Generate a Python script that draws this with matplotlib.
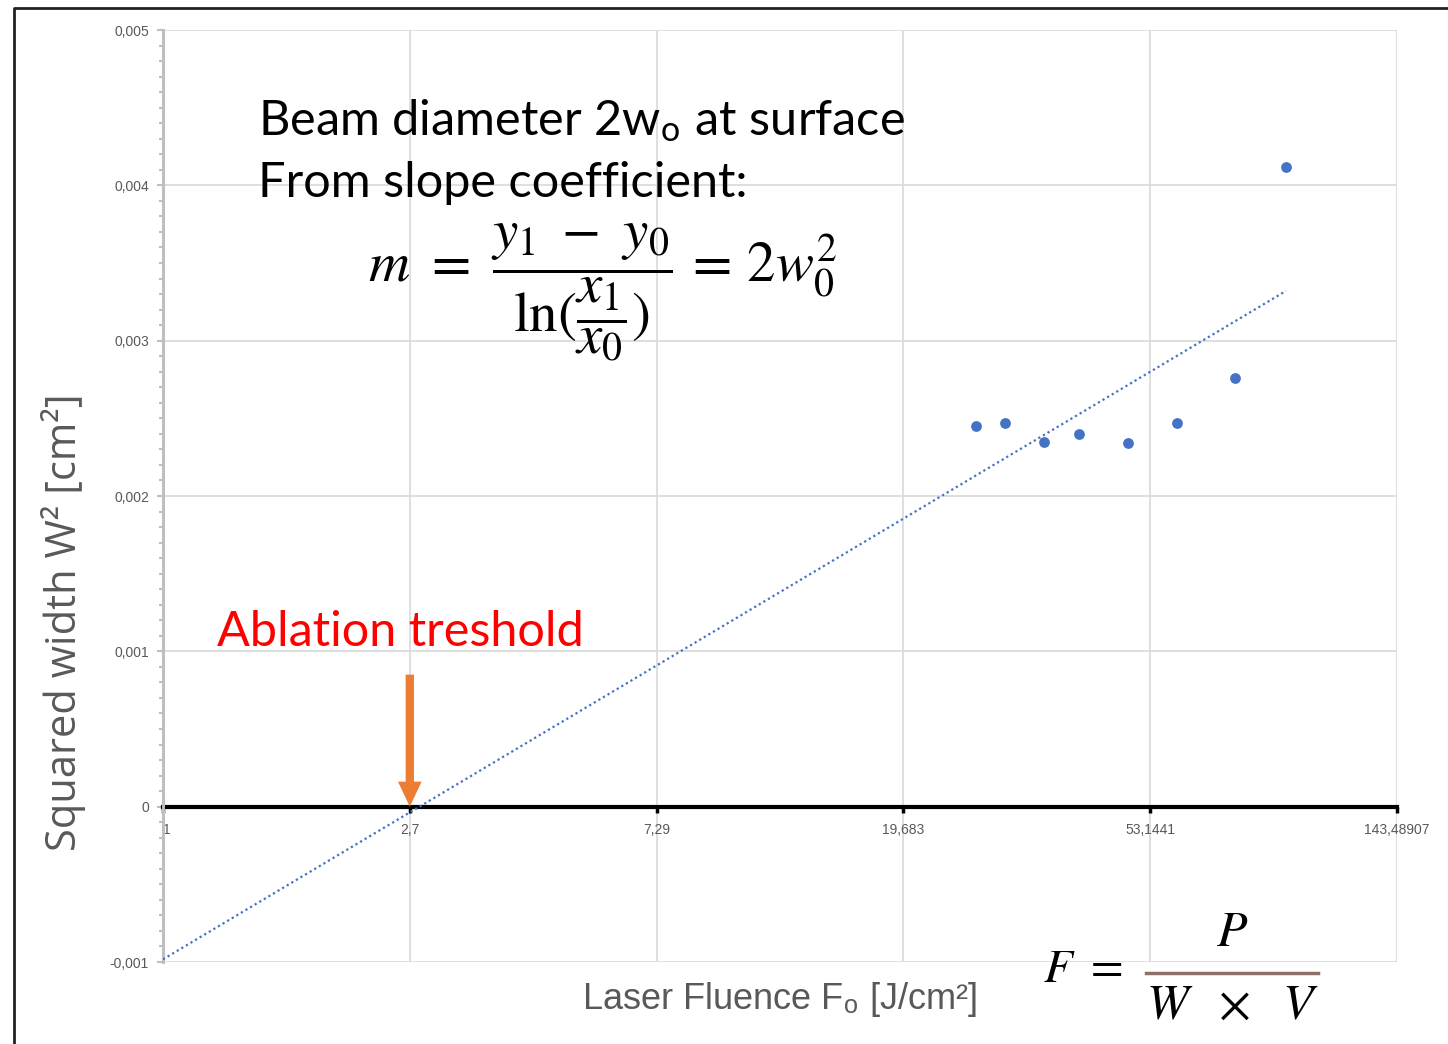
import numpy as np
import matplotlib
matplotlib.use("Agg")
import matplotlib.pyplot as plt
from matplotlib.ticker import FixedLocator, MultipleLocator, NullLocator
from matplotlib.lines import Line2D

# measured points (laser fluence, squared crater width)
fluence = [26.4, 29.6, 34.7, 39.9, 48.6, 59.2, 74.8, 91.8]
width_sq = [0.00245, 0.00247, 0.00235, 0.00240, 0.00234, 0.00247, 0.00276, 0.00412]

x_ticks = [1, 2.7, 7.29, 19.683, 53.1441, 143.48907]
x_tick_labels = ["1", "2,7", "7,29", "19,683", "53,1441", "143,48907"]
y_ticks = [-0.001, 0, 0.001, 0.002, 0.003, 0.004, 0.005]
y_tick_labels = ["-0,001", "0", "0,001", "0,002", "0,003", "0,004", "0,005"]

W, H = 1448, 1044
plt.rcParams["mathtext.fontset"] = "stix"
narrow = ["Liberation Sans Narrow", "DejaVu Sans Condensed", "Liberation Sans"]
grey = "#595959"
blue = "#4472C4"

fig = plt.figure(figsize=(W / 100, H / 100), dpi=100)
ax = fig.add_axes([163 / W, 1 - 962 / H, (1397 - 163) / W, (962 - 30) / H])

# log trendline like Excel: y = a*ln(x) + b
a, b = np.polyfit(np.log(fluence), width_sq, 1)
xf = np.geomspace(1, max(fluence), 300)
ax.plot(xf, a * np.log(xf) + b, color=blue, lw=1.6, ls=(0, (1, 1.4)), zorder=3)
ax.scatter(fluence, width_sq, s=60, color=blue, zorder=4, linewidths=0)

ax.set_xscale("log", base=2.7)
ax.set_xlim(x_ticks[0], x_ticks[-1])
ax.set_ylim(y_ticks[0], y_ticks[-1])
ax.xaxis.set_major_locator(FixedLocator(x_ticks))
ax.xaxis.set_minor_locator(NullLocator())
ax.set_xticklabels(x_tick_labels)
ax.yaxis.set_major_locator(FixedLocator(y_ticks))
ax.yaxis.set_minor_locator(MultipleLocator(0.0001))
ax.set_yticklabels(y_tick_labels)

ax.grid(True, which="major", color="#d9d9d9", lw=1.2, zorder=0)
ax.set_axisbelow(True)
for s in ["top", "right"]:
    ax.spines[s].set_visible(False)
ax.spines["left"].set_color("#bfbfbf")
ax.spines["left"].set_linewidth(2.2)
ax.spines["bottom"].set_position(("data", 0))
ax.spines["bottom"].set_color("black")
ax.spines["bottom"].set_linewidth(3)
ax.spines["bottom"].set_zorder(2)

ax.tick_params(axis="y", which="major", length=4, width=1.5, color="#bfbfbf",
               labelcolor=grey, labelsize=10, pad=6)
ax.tick_params(axis="y", which="minor", length=3, width=1.5, color="#bfbfbf")
ax.tick_params(axis="x", which="major", length=4, width=2.5, color="black",
               labelcolor=grey, labelsize=10, pad=8)
for lab in ax.get_xticklabels() + ax.get_yticklabels():
    lab.set_family(narrow)
ax.get_xticklabels()[0].set_ha("left")

ax.set_xlabel("Laser Fluence F$_{\\mathregular{o}}$ [J/cm²]", family=narrow,
              fontsize=26, color=grey)
ax.xaxis.set_label_coords(0.5, -0.019)
ax.set_ylabel("Squared width W² [cm²]", family="Open Sans", fontsize=30, color=grey)
ax.yaxis.set_label_coords(-0.062, 0.365)

# orange arrow pointing at the threshold
ax.annotate("", xy=(2.7, 0), xytext=(2.7, 0.00085),
            arrowprops=dict(arrowstyle="simple,head_width=1.7,head_length=1.8,tail_width=0.6",
                            color="#ED7D31", shrinkA=0, shrinkB=0, lw=0), zorder=5)

# annotations
def fx(px):
    return px / W

def fy(py):
    return 1 - py / H

fig.text(fx(258), fy(135), "Beam diameter 2w$_{\\mathregular{o}}$ at surface",
         family="Lato", fontsize=35, color="black", va="baseline")
fig.text(fx(258), fy(197), "From slope coefficient:",
         family="Lato", fontsize=35, color="black", va="baseline")
fig.text(fx(368), fy(292),
         r"$m\ =\ \dfrac{y_1\ -\ y_0}{\ln(\dfrac{x_1}{x_0})}\,=\,2w_0^2$",
         fontsize=41, color="black", va="center", ha="left")
fig.text(fx(217), fy(646), "Ablation treshold", family="Lato", fontsize=35,
         color="#FF0000", va="baseline")

fig.text(fx(1043), fy(970), r"$F\ =$", fontsize=34, va="center", ha="left")
fig.text(fx(1232), fy(932), r"$P$", fontsize=36, va="center", ha="center")
fig.text(fx(1232), fy(1005), r"$W\ \ \times\ \ V$", fontsize=36, va="center", ha="center")
fig.add_artist(Line2D([fx(1146), fx(1318)], [fy(973), fy(973)], color="#8C706B", lw=2.5))

# outer frame (top and left edges)
fig.add_artist(Line2D([fx(14), fx(14), 1.0], [0.0, fy(8), fy(8)], color="#222222", lw=2))

fig.savefig("out.png", dpi=100)
